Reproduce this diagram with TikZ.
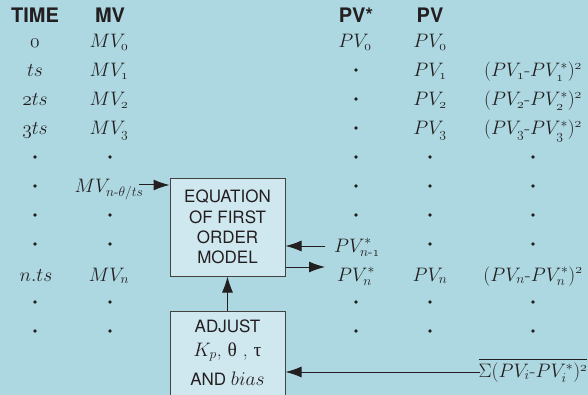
\documentclass[tikz,border=0pt]{standalone}
\usepackage{fix-cm}
\usepackage{amsmath}
\usepackage{fontspec}
\newfontfamily\hel{TeX Gyre Heros}
\newfontfamily\grk{Liberation Serif}
\usetikzlibrary{arrows.meta}
\definecolor{bg}{RGB}{173,216,225}
\definecolor{boxfill}{RGB}{207,231,238}
\definecolor{ink}{RGB}{35,31,32}
\newcommand{\os}[1]{\mathnormal{#1}}
\newcommand{\hy}{\text{-}}
\begin{document}
\begin{tikzpicture}[x=1pt,y=-1pt,
  hdr/.style={font=\hel\bfseries\fontsize{20}{22}\selectfont, text=ink, anchor=base, inner sep=0pt},
  mth/.style={font=\fontsize{19.5}{22}\selectfont, text=ink, anchor=base, inner sep=0pt},
  dotn/.style={circle, fill=ink, inner sep=0pt, minimum size=3.6pt},
  boxn/.style={draw=ink!85, line width=1pt, fill=boxfill, text=ink, inner sep=0pt},
  boxtxt/.style={font=\hel\fontsize{17}{20}\selectfont, text=ink, align=center, anchor=base, inner sep=0pt},
  arr/.style={-{Latex[length=16pt,width=11pt]}, line width=1pt, draw=ink}]
\fill[bg] (0,0) rectangle (588,395);
\clip (0,0) rectangle (588,395);

% headers
\node[hdr] (hT) at (35,23) {TIME};
\node[hdr] (hMV) at (110,23) {MV};
\node[hdr] (hPVs) at (356,23) {PV*};
\node[hdr] (hPV) at (430,23) {PV};

% TIME column
\node[mth] (t0) at (35,48) {$\os{0}$};
\node[mth] (t1) at (35,77) {$ts$};
\node[mth] (t2) at (35,106) {$\os{2}ts$};
\node[mth] (t3) at (35,135) {$\os{3}ts$};
\node[mth] (tn) at (36,281) {$n.ts$};

% MV column
\node[mth] (m0) at (109,48) {$MV_{\os{0}}$};
\node[mth] (m1) at (109,77) {$MV_{\os{1}}$};
\node[mth] (m2) at (109,106) {$MV_{\os{2}}$};
\node[mth] (m3) at (109,135) {$MV_{\os{3}}$};
\node[mth] (mvth) at (109,193) {$MV_{n\hy\theta/ts}$};
\node[mth] (mn) at (109,281) {$MV_n$};

% PV* column
\node[mth] (s0) at (355,48) {$PV_{\os{0}}$};
\node[mth] (pvn1) at (357,252) {$PV^{*}_{n\hy\os{1}}$};
\node[mth] (pvn) at (356,281) {$PV^{*}_{n}$};

% PV column
\node[mth] (p0) at (430,48) {$PV_{\os{0}}$};
\node[mth] (p1) at (430,77) {$PV_{\os{1}}$};
\node[mth] (p2) at (430,106) {$PV_{\os{2}}$};
\node[mth] (p3) at (430,135) {$PV_{\os{3}}$};
\node[mth] (pn) at (430,281) {$PV_n$};

% error column
\node[mth] (e1) at (533,77) {$(PV_{\os{1}}\hy PV^{*}_{\os{1}})^{\os{2}}$};
\node[mth] (e2) at (533,106) {$(PV_{\os{2}}\hy PV^{*}_{\os{2}})^{\os{2}}$};
\node[mth] (e3) at (533,135) {$(PV_{\os{3}}\hy PV^{*}_{\os{3}})^{\os{2}}$};
\node[mth] (en) at (533,281) {$(PV_n\hy PV^{*}_n)^{\os{2}}$};
\node[mth] (sumn) at (533,377) {$\overline{\Sigma(PV_i\hy PV^{*}_i)^{\os{2}}}$};

% dots
\foreach \k/\y in {4/157,5/186,6/215,7/244,9/302,10/331} {
  \node[dotn] (dt\k) at (35,\y) {};
  \node[dotn] (dp\k) at (430,\y) {};
  \node[dotn] (de\k) at (533,\y) {};
}
\foreach \k/\y in {4/157,6/215,7/244,9/302,10/331} {
  \node[dotn] (dm\k) at (110,\y) {};
}
\foreach \k/\y in {1/70,2/99,3/128,4/157,5/186,6/215,9/302,10/331} {
  \node[dotn] (ds\k) at (356,\y) {};
}

% boxes
\node[boxn, minimum width=115pt, minimum height=97pt] (box1) at (227.5,227.5) {};
\node[boxtxt] (b1a) at (227.5,203) {EQUATION};
\node[boxtxt] (b1b) at (227.5,223) {OF FIRST};
\node[boxtxt] (b1c) at (227.5,243) {ORDER};
\node[boxtxt] (b1d) at (227.5,263) {MODEL};

\node[boxn, minimum width=115pt, minimum height=100pt, anchor=north] (box2) at (227.5,311) {};
\node[boxtxt] (b2a) at (227.5,332) {ADJUST};
\node[boxtxt, font=\fontsize{19.5}{22}\selectfont] (b2b) at (227.5,356) {$K_p$, {\grk θ} , {\grk τ}};
\node[boxtxt] (b2c) at (227.5,385) {AND {\fontsize{19.5}{22}\selectfont$bias$}};

% connectors
\coordinate (a1) at (139,185);
\draw[arr] (a1) -- (a1 -| box1.west);
\coordinate (a2) at (325,246);
\draw[arr] (a2) -- (a2 -| box1.east);
\coordinate (a3) at (325,267);
\draw[arr] (a3 -| box1.east) -- (a3);
\draw[arr] (box2.north) -- (box1.south);
\coordinate (a4) at (480,372);
\draw[arr] (a4) -- (a4 -| box2.east);
\end{tikzpicture}
\end{document}
